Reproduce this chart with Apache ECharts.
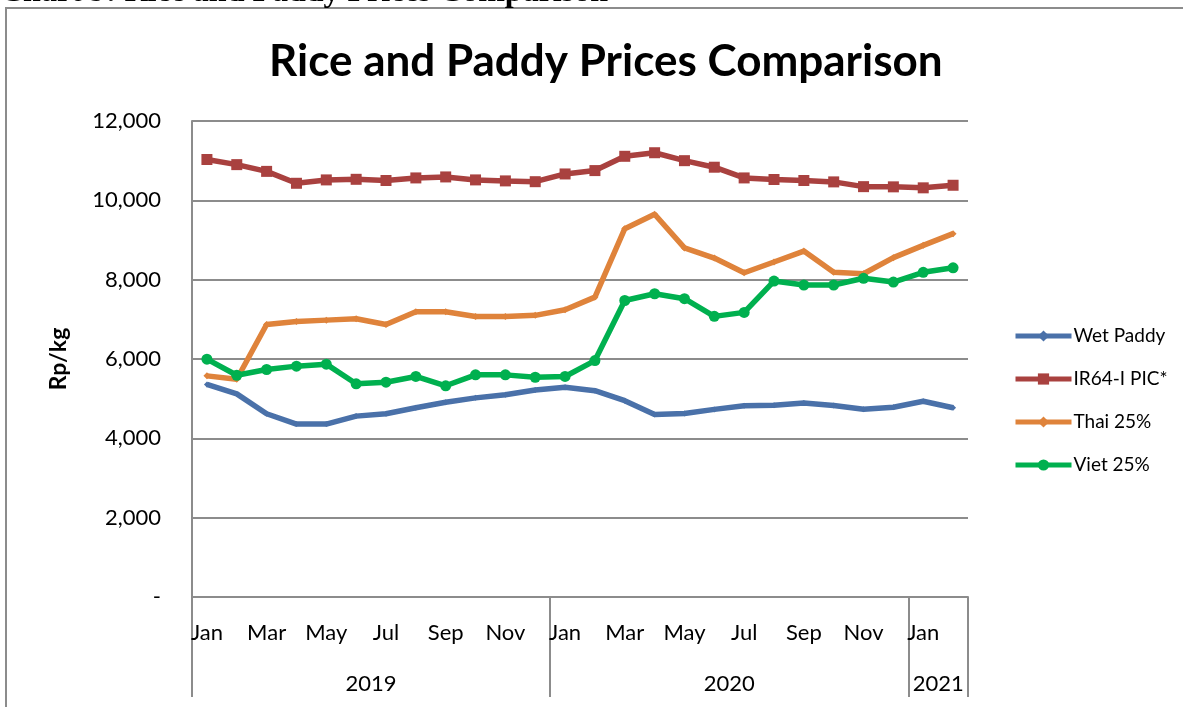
<!DOCTYPE html>
<html>
<head>
<meta charset="utf-8">
<script src="https://cdn.jsdelivr.net/npm/echarts@6/dist/echarts.min.js"></script>
<style>
    html, body { margin: 0; padding: 0; background: #fff; }
    #main { width: 1183px; height: 707px; }
</style>
</head>
<body>
<div id="main"></div>
<script>
    // 月份（2019年1月 - 2021年2月）
    var months = ['Jan','Feb','Mar','Apr','May','Jun','Jul','Aug','Sep','Oct','Nov','Dec',
                  'Jan','Feb','Mar','Apr','May','Jun','Jul','Aug','Sep','Oct','Nov','Dec',
                  'Jan','Feb'];
    var years = ['2019', '2020', '2021'];
    var yearMid = [6, 18, 25];        // 年份标签位置（类目单位）
    var yearBreaks = [0, 12, 24, 26]; // 年份分隔线
    var legendNames = ['Wet Paddy', 'IR64-I PIC*', 'Thai 25%', 'Viet 25%'];
    var colorList = ['#4a71a9', '#a9413f', '#df833b', '#00b04f'];

    var wetPaddy = [5360,5120,4620,4360,4360,4560,4620,4770,4910,5020,5100,5220,
                    5290,5200,4950,4600,4625,4730,4820,4835,4890,4830,4735,4785,4935,4770];
    var ir64 = [11030,10900,10730,10430,10515,10530,10500,10565,10590,10515,10490,10470,
                10665,10750,11110,11200,11000,10835,10565,10525,10500,10465,10345,10340,10315,10380];
    var thai = [5575,5490,6870,6945,6980,7015,6870,7190,7190,7070,7070,7100,
                7240,7560,9285,9650,8800,8545,8175,8445,8720,8190,8150,8555,8865,9160];
    var viet = [5995,5590,5735,5820,5870,5375,5415,5560,5325,5600,5600,5540,
                5560,5960,7475,7645,7520,7075,7175,7965,7865,7865,8035,7940,8185,8300];

    var seriesData = [wetPaddy, ir64, thai, viet];
    var symbols = ['diamond', 'rect', 'diamond', 'circle'];
    var symbolSizes = [6, 11, 7, 11];

    var font = 'Lato';
    var gray = '#8c8c8c';

    var myChart = echarts.init(document.getElementById('main'));
    var _option = {
        animation: false,
        backgroundColor: '#fff',
        title: {
            text: 'Rice and Paddy Prices Comparison',
            left: 264,
            top: 35,
            textStyle: {
                fontFamily: font,
                fontSize: 44,
                fontWeight: 'bold',
                color: '#000'
            }
        },
        graphic: [
            {
                type: 'rect',
                shape: { x: 6, y: 8, width: 1200, height: 720 },
                style: { fill: 'none', stroke: gray, lineWidth: 2 },
                silent: true
            },
            {
                type: 'text',
                style: {
                    x: 0, y: 9,
                    text: 'Chart 9: Rice and Paddy Prices Comparison',
                    font: 'bold 32px "Liberation Serif"',
                    fill: '#000',
                    verticalAlign: 'bottom'
                },
                silent: true
            }
        ],
        legend: {
            data: legendNames,
            orient: 'vertical',
            left: 1008,
            top: 321,
            itemWidth: 56,
            itemHeight: 14,
            itemGap: 23,
            lineStyle: { width: 5 },
            textStyle: {
                fontFamily: font,
                fontSize: 19,
                color: '#000',
                lineHeight: 20,
                padding: [0, 0, 0, -3]
            }
        },
        grid: {
            left: 192,
            right: 215,
            top: 121,
            bottom: 110,
            containLabel: false
        },
        xAxis: [
            {
                type: 'category',
                data: months,
                boundaryGap: true,
                axisLine: { lineStyle: { color: gray, width: 2 } },
                axisTick: { show: false },
                axisLabel: {
                    interval: 1,
                    margin: 25,
                    fontFamily: font,
                    fontSize: 22,
                    color: '#000'
                },
                splitLine: { show: false }
            },
            {
                // 年份分组轴
                type: 'value',
                position: 'bottom',
                min: 0,
                max: 26,
                axisLine: { show: false },
                axisTick: {
                    show: true,
                    customValues: yearBreaks,
                    length: 100,
                    lineStyle: { color: gray, width: 2 }
                },
                axisLabel: {
                    customValues: yearMid,
                    margin: 76,
                    fontFamily: font,
                    fontSize: 22,
                    color: '#000',
                    formatter: function (v) {
                        var i = yearMid.indexOf(v);
                        return i >= 0 ? years[i] : '';
                    }
                },
                splitLine: { show: false }
            }
        ],
        yAxis: {
            type: 'value',
            min: 0,
            max: 12000,
            interval: 2000,
            name: 'Rp/kg',
            nameLocation: 'middle',
            nameGap: 122,
            nameRotate: 90,
            nameTextStyle: {
                fontFamily: font,
                fontSize: 23,
                fontWeight: 'bold',
                color: '#000'
            },
            axisLine: { show: true, lineStyle: { color: gray, width: 2 } },
            axisTick: { show: false },
            axisLabel: {
                margin: 31,
                fontFamily: font,
                fontSize: 22,
                color: '#000',
                formatter: function (v) {
                    return v === 0 ? '-' : v.toLocaleString('en-US');
                }
            },
            splitLine: { show: true, lineStyle: { color: gray, width: 2 } }
        },
        series: []
    };
    for (var i = 0; i < seriesData.length; i++) {
        _option.series.push({
            name: legendNames[i],
            type: 'line',
            xAxisIndex: 0,
            data: seriesData[i],
            color: colorList[i],
            symbol: symbols[i],
            symbolSize: symbolSizes[i],
            lineStyle: { width: 5.5 },
            showAllSymbol: true
        });
    }
    myChart.setOption(_option);
</script>
</body>
</html>
